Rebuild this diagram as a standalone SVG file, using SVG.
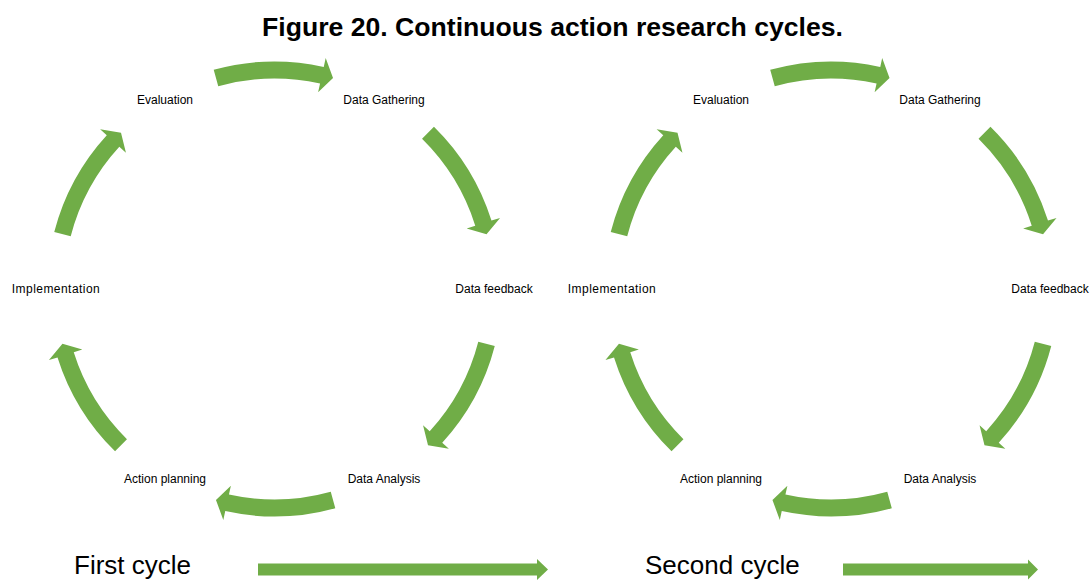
<svg xmlns="http://www.w3.org/2000/svg" xmlns:xlink="http://www.w3.org/1999/xlink" width="1091" height="580" viewBox="0 0 1091 580">
<style>
.lbl{font-family:"Liberation Sans",Arial,sans-serif;font-size:12px;fill:#000;text-anchor:middle}
.wide{letter-spacing:0.45px}
.title{font-family:"Liberation Sans",Arial,sans-serif;font-size:26.6px;font-weight:bold;fill:#000;text-anchor:middle}
.cap{font-family:"Liberation Sans",Arial,sans-serif;font-size:26px;fill:#000}
.arr{fill:#70AD47}
</style>
<defs>
<path id="arc" class="arr" d="M-60.80,-219.23 A227.5,227.5 0 0 1 49.24,-222.11 L51.19,-230.89 L58.53,-211.04 L43.61,-196.72 L45.56,-205.51 A210.5,210.5 0 0 0 -56.25,-202.84 Z"/>
</defs>
<rect width="1091" height="580" fill="#fff"/>
<text class="title" x="552.5" y="36">Figure 20. Continuous action research cycles.</text>

<g id="connectors">
  <g transform="translate(274.5,289)">
    <use xlink:href="#arc" href="#arc"/>
    <use xlink:href="#arc" href="#arc" transform="rotate(60)"/>
    <use xlink:href="#arc" href="#arc" transform="rotate(120)"/>
    <use xlink:href="#arc" href="#arc" transform="rotate(180)"/>
    <use xlink:href="#arc" href="#arc" transform="rotate(240)"/>
    <use xlink:href="#arc" href="#arc" transform="rotate(300)"/>
  </g>
  <g transform="translate(831,289)">
    <use xlink:href="#arc" href="#arc"/>
    <use xlink:href="#arc" href="#arc" transform="rotate(60)"/>
    <use xlink:href="#arc" href="#arc" transform="rotate(120)"/>
    <use xlink:href="#arc" href="#arc" transform="rotate(180)"/>
    <use xlink:href="#arc" href="#arc" transform="rotate(240)"/>
    <use xlink:href="#arc" href="#arc" transform="rotate(300)"/>
  </g>
  <path class="arr" d="M258,563.5 H537 V559 L548,569.5 L537,580 V575.5 H258 Z"/>
  <path class="arr" d="M843,563.5 H1028 V559.5 L1038,569.5 L1028,579.5 V575.5 H843 Z"/>
</g>

<g id="c1-evaluation"><text class="lbl" x="165" y="104">Evaluation</text></g>
<g id="c1-data-gathering"><text class="lbl" x="384" y="104">Data Gathering</text></g>
<g id="c1-data-feedback"><text class="lbl" x="494" y="293">Data feedback</text></g>
<g id="c1-data-analysis"><text class="lbl" x="384" y="483">Data Analysis</text></g>
<g id="c1-action-planning"><text class="lbl" x="165" y="483">Action planning</text></g>
<g id="c1-implementation"><text class="lbl wide" x="56" y="293">Implementation</text></g>

<g id="c2-evaluation"><text class="lbl" x="721" y="104">Evaluation</text></g>
<g id="c2-data-gathering"><text class="lbl" x="940" y="104">Data Gathering</text></g>
<g id="c2-data-feedback"><text class="lbl" x="1050" y="293">Data feedback</text></g>
<g id="c2-data-analysis"><text class="lbl" x="940" y="483">Data Analysis</text></g>
<g id="c2-action-planning"><text class="lbl" x="721" y="483">Action planning</text></g>
<g id="c2-implementation"><text class="lbl wide" x="612" y="293">Implementation</text></g>

<g id="first-cycle"><text class="cap" x="74" y="574">First cycle</text></g>
<g id="second-cycle"><text class="cap" x="645" y="574">Second cycle</text></g>
</svg>
